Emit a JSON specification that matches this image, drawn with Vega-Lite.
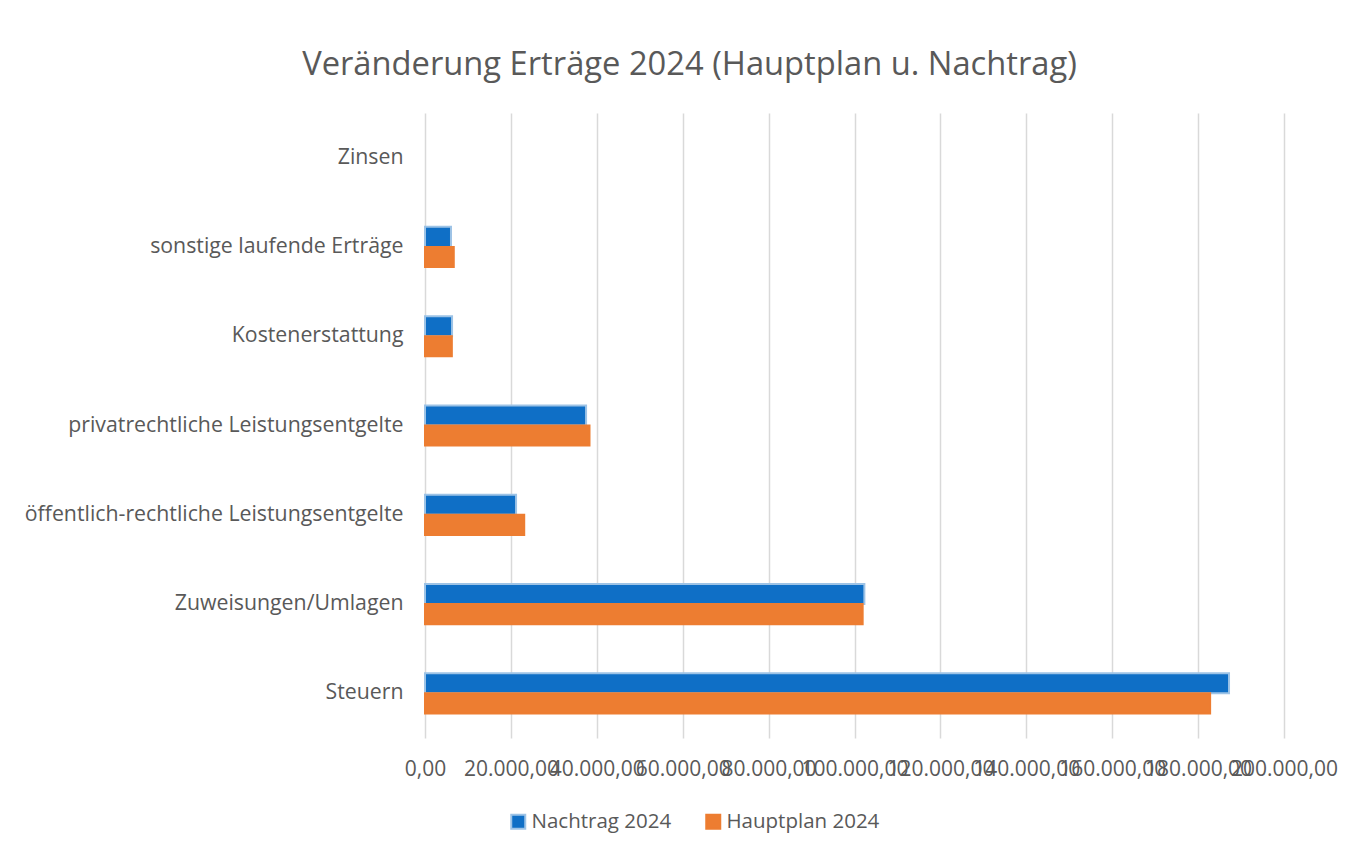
{
  "$schema": "https://vega.github.io/schema/vega-lite/v6.json",
  "width": 859,
  "height": 625,
  "autosize": {"type": "none"},
  "padding": {"left": 425, "top": 113, "right": 64, "bottom": 118},
  "background": "white",
  "title": {
    "text": "Veränderung Erträge 2024 (Hauptplan u. Nachtrag)",
    "font": "Open Sans",
    "fontSize": 32.7,
    "fontWeight": "normal",
    "color": "#595959",
    "anchor": "middle",
    "dx": -165,
    "offset": 31
  },
  "data": {
    "values": [
      {"kategorie": "Zinsen", "serie": "Nachtrag 2024", "wert": 0},
      {"kategorie": "Zinsen", "serie": "Hauptplan 2024", "wert": 0},
      {"kategorie": "sonstige laufende Erträge", "serie": "Nachtrag 2024", "wert": 6050},
      {"kategorie": "sonstige laufende Erträge", "serie": "Hauptplan 2024", "wert": 6700},
      {"kategorie": "Kostenerstattung", "serie": "Nachtrag 2024", "wert": 6300},
      {"kategorie": "Kostenerstattung", "serie": "Hauptplan 2024", "wert": 6250},
      {"kategorie": "privatrechtliche Leistungsentgelte", "serie": "Nachtrag 2024", "wert": 37500},
      {"kategorie": "privatrechtliche Leistungsentgelte", "serie": "Hauptplan 2024", "wert": 38300},
      {"kategorie": "öffentlich-rechtliche Leistungsentgelte", "serie": "Nachtrag 2024", "wert": 21200},
      {"kategorie": "öffentlich-rechtliche Leistungsentgelte", "serie": "Hauptplan 2024", "wert": 23100},
      {"kategorie": "Zuweisungen/Umlagen", "serie": "Nachtrag 2024", "wert": 102300},
      {"kategorie": "Zuweisungen/Umlagen", "serie": "Hauptplan 2024", "wert": 101900},
      {"kategorie": "Steuern", "serie": "Nachtrag 2024", "wert": 187200},
      {"kategorie": "Steuern", "serie": "Hauptplan 2024", "wert": 182800}
    ]
  },
  "transform": [{"filter": "datum.wert > 0"}],
  "mark": {"type": "bar", "strokeWidth": 2},
  "encoding": {
    "y": {
      "field": "kategorie",
      "type": "nominal",
      "sort": null,
      "scale": {
        "domain": ["Zinsen", "sonstige laufende Erträge", "Kostenerstattung", "privatrechtliche Leistungsentgelte", "öffentlich-rechtliche Leistungsentgelte", "Zuweisungen/Umlagen", "Steuern"],
        "paddingInner": 0.55,
        "paddingOuter": 0.275
      },
      "axis": {
        "title": null,
        "ticks": false,
        "domain": false,
        "grid": false,
        "labelFont": "Open Sans",
        "labelFontSize": 21.3,
        "labelColor": "#595959",
        "labelPadding": 22,
        "labelLimit": 500
      }
    },
    "yOffset": {
      "field": "serie",
      "type": "nominal",
      "sort": ["Nachtrag 2024", "Hauptplan 2024"]
    },
    "x": {
      "field": "wert",
      "type": "quantitative",
      "scale": {"domain": [0, 200000], "nice": false},
      "axis": {
        "title": null,
        "values": [0, 20000, 40000, 60000, 80000, 100000, 120000, 140000, 160000, 180000, 200000],
        "format": ",.2f",
        "labelOverlap": false,
        "labelFlush": false,
        "grid": true,
        "gridColor": "#D9D9D9",
        "gridWidth": 1.5,
        "domain": false,
        "ticks": false,
        "labelFont": "Open Sans",
        "labelFontSize": 21,
        "labelColor": "#595959",
        "labelPadding": 20
      }
    },
    "color": {
      "field": "serie",
      "type": "nominal",
      "scale": {"domain": ["Nachtrag 2024", "Hauptplan 2024"], "range": ["#0F6FC6", "#ED7D31"]},
      "legend": {"title": null}
    },
    "stroke": {
      "field": "serie",
      "type": "nominal",
      "scale": {"domain": ["Nachtrag 2024", "Hauptplan 2024"], "range": ["#9DC3E6", "#ED7D31"]},
      "legend": {"title": null}
    }
  },
  "config": {
    "locale": {"number": {"decimal": ",", "thousands": ".", "grouping": [3], "currency": ["", " €"]}},
    "view": {"stroke": null},
    "legend": {
      "orient": "none",
      "legendX": 83,
      "legendY": 698,
      "direction": "horizontal",
      "symbolType": "square",
      "symbolSize": 196,
      "symbolStrokeWidth": 2,
      "labelFont": "Open Sans",
      "labelFontSize": 20.5,
      "labelColor": "#595959",
      "columnPadding": 30,
      "labelOffset": 3
    }
  }
}
